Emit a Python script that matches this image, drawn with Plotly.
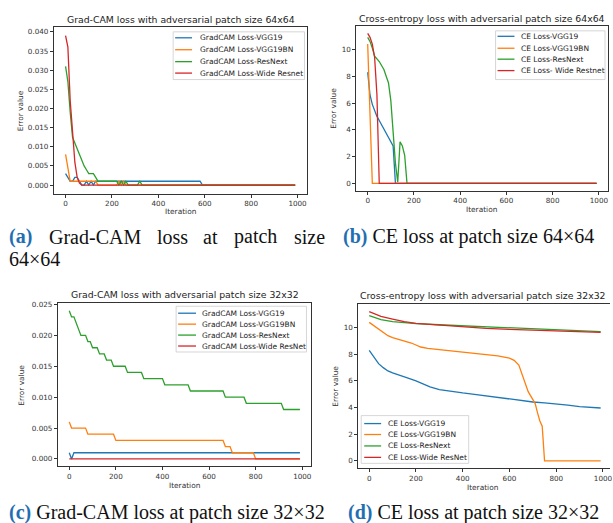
import plotly.graph_objects as go

W, H = 613, 523

# ---------------- data ----------------
names_a = ["GradCAM Loss-VGG19", "GradCAM Loss-VGG19BN", "GradCAM Loss-ResNext", "GradCAM Loss-Wide Resnet"]
names_b = ["CE Loss-VGG19", "CE Loss-VGG19BN", "CE Loss-ResNext", "CE Loss- Wide Restnet"]
names_c = ["GradCAM Loss-VGG19", "GradCAM Loss-VGG19BN", "GradCAM Loss-ResNext", "GradCAM Loss-Wide ResNet"]
names_d = ["CE Loss-VGG19", "CE Loss-VGG19BN", "CE Loss-ResNext", "CE Loss-Wide ResNet"]
colors = ["#1f77b4", "#ff7f0e", "#2ca02c", "#d62728"]

# (a) Grad-CAM loss, patch 64x64
a_vgg19_x = [0, 10, 20, 30, 40, 50, 60, 70, 80, 90, 100, 110, 120, 130, 580, 590, 990]
a_vgg19_y = [.003, .002, .001, .001, .002, .002, .001, 0, 0, .001, 0, .001, 0, .001, .001, 0, 0]
a_vgg19bn_x = [0, 20, 130, 140, 220, 230, 240, 250, 260, 990]
a_vgg19bn_y = [.008, .001, .001, 0, 0, .001, 0, .001, 0, 0]
a_resnext_x = [0, 10, 20, 30, 40, 50, 60, 70, 80, 90, 100, 110, 120, 130, 140, 220, 230, 240, 250, 260, 270, 310, 320, 330, 990]
a_resnext_y = [.031, .027, .019, .0125, .011, .0095, .0075, .0065, .005, .004, .003, .003, .003, .002, .001, .001, 0, .001, 0, .001, 0, 0, .001, 0, 0]
a_wide_x = [0, 10, 20, 30, 40, 50, 60, 70, 990]
a_wide_y = [.039, .036, .022, .013, .006, .002, .0005, 0, 0]

# (b) CE loss, patch 64x64
b_vgg19_x = [0, 10, 20, 30, 40, 50, 60, 70, 80, 90, 100, 110, 120, 990]
b_vgg19_y = [8.3, 6.6, 5.9, 5.4, 5.0, 4.7, 4.4, 4.1, 3.7, 3.4, 3.1, 2.8, 0, 0]
b_vgg19bn_x = [0, 20, 990]
b_vgg19bn_y = [10.4, 0, 0]
b_resnext_x = [0, 10, 20, 30, 40, 50, 60, 70, 80, 90, 100, 110, 120, 130, 140, 150, 160, 170, 990]
b_resnext_y = [10.9, 10.6, 10.1, 9.5, 9.3, 9.1, 8.8, 8.5, 8.0, 7.5, 6.2, 3.8, 1.5, 0.1, 3.1, 2.8, 2.1, 0, 0]
b_wide_x = [0, 10, 20, 30, 40, 50, 990]
b_wide_y = [11.2, 10.9, 10.4, 9.4, 6.6, 0, 0]

# (c) Grad-CAM loss, patch 32x32
c_vgg19_x = [0, 10, 20, 990]
c_vgg19_y = [.001, 0, .001, .001]
c_vgg19bn_x = [0, 10, 70, 80, 190, 200, 660, 670, 690, 700, 790, 800, 990]
c_vgg19bn_y = [.006, .005, .005, .004, .004, .003, .003, .002, .002, .001, .001, 0, 0]
c_resnext_x = [0, 10, 20, 30, 40, 50, 70, 80, 90, 100, 120, 130, 150, 160, 180, 190, 240, 250, 310, 320,
               400, 410, 510, 520, 660, 670, 750, 760, 910, 920, 990]
c_resnext_y = [.024, .023, .023, .022, .021, .020, .020, .019, .019, .018, .018, .017, .017, .016, .016, .015,
               .015, .014, .014, .013, .013, .012, .012, .011, .011, .010, .010, .009, .009, .008, .008]
c_wide_x = [0, 990]
c_wide_y = [0, 0]

# (d) CE loss, patch 32x32
d_vgg19_x = [0, 20, 40, 60, 80, 100, 130, 160, 200, 230, 260, 300, 350, 400, 450, 500, 550, 600, 650, 700,
             750, 800, 850, 900, 950, 990]
d_vgg19_y = [8.3, 7.8, 7.3, 7.0, 6.75, 6.6, 6.45, 6.25, 6.0, 5.75, 5.55, 5.35, 5.2, 5.1, 5.0, 4.88, 4.78, 4.65,
             4.52, 4.42, 4.35, 4.28, 4.18, 4.08, 4.02, 3.97]
d_vgg19bn_x = [0, 20, 40, 60, 80, 100, 130, 160, 180, 200, 220, 250, 300, 350, 400, 450, 500, 550, 600, 620,
               640, 650, 660, 670, 680, 690, 700, 710, 720, 730, 740, 750, 990]
d_vgg19bn_y = [10.4, 10.15, 9.85, 9.6, 9.4, 9.25, 9.1, 9.0, 8.85, 8.7, 8.55, 8.45, 8.35, 8.25, 8.15, 8.05, 7.95,
               7.88, 7.72, 7.55, 7.2, 6.7, 6.1, 5.6, 5.2, 4.9, 4.6, 4.3, 3.6, 3.0, 2.6, 0, 0]
d_resnext_x = [0, 20, 50, 100, 150, 200, 300, 400, 500, 600, 700, 800, 900, 990]
d_resnext_y = [10.9, 10.8, 10.6, 10.45, 10.38, 10.3, 10.22, 10.15, 10.08, 10.0, 9.92, 9.83, 9.75, 9.7]
d_wide_x = [0, 20, 50, 100, 150, 200, 300, 400, 500, 600, 700, 800, 900, 990]
d_wide_y = [11.2, 11.05, 10.85, 10.65, 10.45, 10.32, 10.18, 10.05, 9.95, 9.88, 9.82, 9.76, 9.7, 9.65]

titles = ["Grad-CAM loss with adversarial patch size 64x64",
          "Cross-entropy loss with adversarial patch size 64x64",
          "Grad-CAM loss with adversarial patch size 32x32",
          "Cross-entropy loss with adversarial patch size 32x32"]
x_label = "Iteration"
y_label = "Error value"
x_ticks = [0, 200, 400, 600, 800, 1000]

# ---------------- helpers ----------------
def px(x):
    return x / W

def py(y):
    return 1 - y / H

MPL = "DejaVu Sans"
fig = go.Figure()

panels = [
    dict(series=[(a_vgg19_x, a_vgg19_y), (a_vgg19bn_x, a_vgg19bn_y), (a_resnext_x, a_resnext_y), (a_wide_x, a_wide_y)],
         names=names_a, dom_x=(54, 309), dom_y=(24, 192), xr=[-51, 1043], yr=[-0.0023, 0.0413],
         yt=[0, .005, .01, .015, .02, .025, .03, .035, .04], yfmt=".3f", mirror_y=True,
         title_y=17, xlab_y=210, ylab_x=20),
    dict(series=[(b_vgg19_x, b_vgg19_y), (b_vgg19bn_x, b_vgg19bn_y), (b_resnext_x, b_resnext_y), (b_wide_x, b_wide_y)],
         names=names_b, dom_x=(358, 611), dom_y=(23, 189), xr=[-49.5, 1039.5], yr=[-0.56, 11.76],
         yt=[0, 2, 4, 6, 8, 10], yfmt="d", mirror_y=True,
         title_y=16, xlab_y=208, ylab_x=335),
    dict(series=[(c_vgg19_x, c_vgg19_y), (c_vgg19bn_x, c_vgg19bn_y), (c_resnext_x, c_resnext_y), (c_wide_x, c_wide_y)],
         names=names_c, dom_x=(58, 313), dom_y=(302, 466), xr=[-49.5, 1039.5], yr=[-0.0012, 0.0252],
         yt=[0, .005, .01, .015, .02, .025], yfmt=".3f", mirror_y=True,
         title_y=293, xlab_y=485, ylab_x=22),
    dict(series=[(d_vgg19_x, d_vgg19_y), (d_vgg19bn_x, d_vgg19bn_y), (d_resnext_x, d_resnext_y), (d_wide_x, d_wide_y)],
         names=names_d, dom_x=(360, 613), dom_y=(303, 468), xr=[-47, 1030], yr=[-0.56, 11.76],
         yt=[0, 2, 4, 6, 8, 10], yfmt="d", mirror_y=False,
         title_y=294, xlab_y=487, ylab_x=337),
]

legends = [
    dict(box=(174, 29, 306, 77), h=(176, 193), tx=199, rows=[35, 47, 59, 70.5]),
    dict(box=(498, 28, 608, 77), h=(500, 517), tx=522, rows=[33.5, 45.5, 56.5, 68]),
    dict(box=(177, 305, 308, 351), h=(179, 197), tx=201, rows=[312, 323, 334, 345]),
    dict(box=(363, 415, 471, 463), h=(366, 383), tx=388, rows=[423, 434, 445.5, 457]),
]

annotations = []
shapes = []
axis_common = dict(showline=True, linecolor="#333", linewidth=0.8, ticks="outside", ticklen=3,
                   tickwidth=0.8, tickcolor="#333", showgrid=False, zeroline=False,
                   ticklabeloverflow="allow",
                   tickfont=dict(family=MPL, size=7.2, color="#333"))

for i, p in enumerate(panels):
    k = "" if i == 0 else str(i + 1)
    for (xs, ys), nm, col in zip(p["series"], p["names"], colors):
        fig.add_trace(go.Scatter(x=xs, y=ys, mode="lines", name=nm, showlegend=False,
                                 line=dict(color=col, width=1.3), xaxis="x" + k, yaxis="y" + k))
    fig.layout["xaxis" + k] = dict(axis_common, domain=[px(p["dom_x"][0]), px(p["dom_x"][1])],
                                   range=p["xr"], tickvals=x_ticks, anchor="y" + k, mirror=True)
    fig.layout["yaxis" + k] = dict(axis_common, domain=[py(p["dom_y"][1]), py(p["dom_y"][0])],
                                   range=p["yr"], tickvals=p["yt"], tickformat=p["yfmt"],
                                   anchor="x" + k, mirror=p["mirror_y"])
    cx = (p["dom_x"][0] + min(p["dom_x"][1], 611)) / 2
    annotations.append(dict(text=titles[i], x=px(cx), y=py(p["title_y"]), xref="paper", yref="paper",
                            showarrow=False, xanchor="center", yanchor="middle",
                            font=dict(family=MPL, size=9.3, color="#222")))
    annotations.append(dict(text=x_label, x=px(cx), y=py(p["xlab_y"]), xref="paper", yref="paper",
                            showarrow=False, xanchor="center", yanchor="middle",
                            font=dict(family=MPL, size=7.4, color="#333")))
    cy = (p["dom_y"][0] + p["dom_y"][1]) / 2
    annotations.append(dict(text=y_label, x=px(p["ylab_x"]), y=py(cy), xref="paper", yref="paper",
                            showarrow=False, xanchor="center", yanchor="middle", textangle=-90,
                            font=dict(family=MPL, size=7.4, color="#333")))
    # legend drawn from the trace names
    lg = legends[i]
    x0, y0, x1, y1 = lg["box"]
    shapes.append(dict(type="rect", xref="paper", yref="paper", x0=px(x0), x1=px(x1), y0=py(y1), y1=py(y0),
                       line=dict(color="#cccccc", width=0.8), fillcolor="rgba(255,255,255,0.85)", layer="above"))
    for nm, col, ry in zip(p["names"], colors, lg["rows"]):
        shapes.append(dict(type="line", xref="paper", yref="paper", x0=px(lg["h"][0]), x1=px(lg["h"][1]),
                           y0=py(ry), y1=py(ry), line=dict(color=col, width=1.3), layer="above"))
        annotations.append(dict(text=nm, x=px(lg["tx"]), y=py(ry), xref="paper", yref="paper",
                                showarrow=False, xanchor="left", yanchor="middle",
                                font=dict(family=MPL, size=7.5, color="#222")))

# ---------------- captions ----------------
SERIF = "Liberation Serif"
BLUE = "#1f6fb2"
cap_font = dict(family=SERIF, size=20, color="#111")

def lab(t):
    return "<b><span style='color:%s'>%s</span></b>" % (BLUE, t)

cap_a_words = [(lab("(a)"), 7), ("Grad-CAM", 47), ("loss", 156), ("at", 202), ("patch", 233), ("size", 293)]
for t, x in cap_a_words:
    annotations.append(dict(text=t, x=px(x), y=py(235), xref="paper", yref="paper", showarrow=False,
                            xanchor="left", yanchor="middle", font=cap_font))
annotations.append(dict(text="64×64", x=px(7), y=py(257), xref="paper", yref="paper", showarrow=False,
                        xanchor="left", yanchor="middle", font=cap_font))
annotations.append(dict(text=lab("(b)") + " CE loss at patch size 64×64", x=px(343), y=py(235),
                        xref="paper", yref="paper", showarrow=False, xanchor="left", yanchor="middle",
                        font=cap_font))
annotations.append(dict(text=lab("(c)") + " Grad-CAM loss at patch size 32×32", x=px(7), y=py(512),
                        xref="paper", yref="paper", showarrow=False, xanchor="left", yanchor="middle",
                        font=cap_font))
annotations.append(dict(text=lab("(d)") + " CE loss at patch size 32×32", x=px(348), y=py(512),
                        xref="paper", yref="paper", showarrow=False, xanchor="left", yanchor="middle",
                        font=cap_font))

fig.update_layout(width=W, height=H, margin=dict(l=0, r=0, t=0, b=0), paper_bgcolor="white",
                  plot_bgcolor="white", showlegend=False, annotations=annotations, shapes=shapes)

fig.write_html("out.html", config={"displayModeBar": False},
               post_script="document.body.style.margin='0';document.body.style.padding='0';"
                           "document.body.style.overflow='hidden';")
